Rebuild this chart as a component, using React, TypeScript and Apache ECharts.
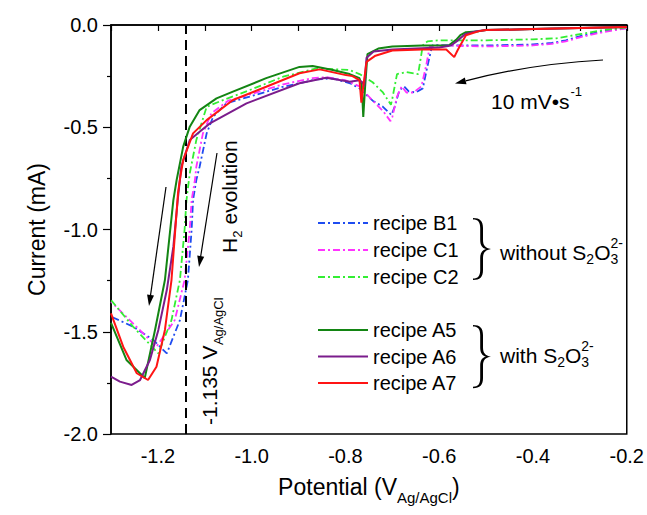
import React, { useEffect, useRef } from 'react';
import * as echarts from 'echarts';

const FONT = 'Arial, "Liberation Sans", Helvetica, sans-serif';

const seriesNames = ['recipe B1', 'recipe C1', 'recipe C2', 'recipe A5', 'recipe A6', 'recipe A7'];
const seriesColors = ['#1f4cf0', '#ff33ff', '#33ee33', '#138513', '#7b1c8c', '#ff1414'];

// [potential (V), current (mA)] — sweep from -0.2 V to -1.3 V
const b1: [number, number][] = [
  [-0.2, -0.015], [-0.25, -0.03], [-0.3, -0.055], [-0.33, -0.075], [-0.36, -0.088], [-0.4, -0.095],
  [-0.5, -0.1], [-0.55, -0.1], [-0.6, -0.098], [-0.615, -0.1], [-0.625, -0.2], [-0.635, -0.31],
  [-0.65, -0.33], [-0.665, -0.325], [-0.675, -0.3], [-0.685, -0.32], [-0.695, -0.4], [-0.702, -0.44],
  [-0.72, -0.4], [-0.742, -0.37], [-0.77, -0.31], [-0.79, -0.285], [-0.827, -0.261], [-0.862, -0.266],
  [-0.933, -0.302], [-1.004, -0.35], [-1.054, -0.383], [-1.082, -0.448], [-1.096, -0.53], [-1.111, -0.693],
  [-1.118, -0.758], [-1.125, -0.856], [-1.128, -1.0], [-1.136, -1.247], [-1.153, -1.443], [-1.181, -1.606],
  [-1.21, -1.54], [-1.253, -1.475], [-1.3, -1.426],
];
const c1: [number, number][] = [
  [-0.2, -0.015], [-0.25, -0.035], [-0.3, -0.06], [-0.33, -0.08], [-0.36, -0.092], [-0.4, -0.1],
  [-0.5, -0.105], [-0.6, -0.1], [-0.62, -0.105], [-0.628, -0.2], [-0.638, -0.3], [-0.655, -0.33],
  [-0.67, -0.33], [-0.68, -0.3], [-0.69, -0.35], [-0.7, -0.45], [-0.704, -0.47], [-0.72, -0.42],
  [-0.742, -0.37], [-0.77, -0.3], [-0.8, -0.27], [-0.84, -0.255], [-0.87, -0.26], [-0.933, -0.29],
  [-1.004, -0.34], [-1.05, -0.37], [-1.086, -0.432], [-1.104, -0.53], [-1.118, -0.693], [-1.121, -0.758],
  [-1.128, -0.856], [-1.132, -1.0], [-1.143, -1.247], [-1.164, -1.443], [-1.203, -1.573],
  [-1.253, -1.459], [-1.3, -1.353],
];
const c2: [number, number][] = [
  [-0.2, -0.012], [-0.25, -0.025], [-0.3, -0.045], [-0.35, -0.065], [-0.4, -0.07], [-0.5, -0.075],
  [-0.6, -0.075], [-0.625, -0.08], [-0.635, -0.1], [-0.645, -0.24], [-0.67, -0.23], [-0.69, -0.24],
  [-0.7, -0.36], [-0.703, -0.39], [-0.72, -0.33], [-0.742, -0.28], [-0.77, -0.24], [-0.791, -0.22],
  [-0.862, -0.212], [-0.933, -0.253], [-1.004, -0.318], [-1.061, -0.367], [-1.096, -0.4], [-1.118, -0.562],
  [-1.132, -0.725], [-1.139, -0.856], [-1.143, -1.0], [-1.153, -1.247], [-1.171, -1.443], [-1.199, -1.606],
  [-1.253, -1.475], [-1.3, -1.345],
];
const a5: [number, number][] = [
  [-0.2, -0.01], [-0.3, -0.015], [-0.4, -0.02], [-0.5, -0.025], [-0.515, -0.03], [-0.543, -0.035],
  [-0.555, -0.05], [-0.564, -0.073], [-0.58, -0.1], [-0.6, -0.1], [-0.636, -0.1], [-0.7, -0.105],
  [-0.73, -0.115], [-0.753, -0.142], [-0.758, -0.3], [-0.762, -0.45], [-0.765, -0.3], [-0.77, -0.26],
  [-0.791, -0.24], [-0.827, -0.22], [-0.87, -0.2], [-0.898, -0.205], [-0.969, -0.26], [-1.04, -0.326],
  [-1.075, -0.359], [-1.111, -0.416], [-1.132, -0.497], [-1.146, -0.595], [-1.16, -0.758], [-1.167, -0.856],
  [-1.185, -1.247], [-1.206, -1.49], [-1.228, -1.726], [-1.267, -1.638], [-1.3, -1.457],
];
const a6: [number, number][] = [
  [-0.2, -0.01], [-0.3, -0.015], [-0.4, -0.02], [-0.5, -0.025], [-0.52, -0.03], [-0.545, -0.045],
  [-0.56, -0.075], [-0.575, -0.1], [-0.6, -0.11], [-0.65, -0.115], [-0.7, -0.12], [-0.74, -0.13],
  [-0.755, -0.16], [-0.76, -0.3], [-0.764, -0.28], [-0.77, -0.27], [-0.791, -0.277], [-0.841, -0.258],
  [-0.898, -0.285], [-1.011, -0.383], [-1.089, -0.481], [-1.111, -0.522], [-1.132, -0.562], [-1.15, -0.693],
  [-1.157, -0.84], [-1.167, -1.084], [-1.181, -1.296], [-1.199, -1.491], [-1.217, -1.638], [-1.238, -1.736],
  [-1.256, -1.76], [-1.281, -1.744], [-1.3, -1.72],
];
const a7: [number, number][] = [
  [-0.2, -0.01], [-0.3, -0.015], [-0.4, -0.02], [-0.5, -0.025], [-0.515, -0.03], [-0.543, -0.05],
  [-0.56, -0.12], [-0.568, -0.157], [-0.585, -0.12], [-0.636, -0.12], [-0.7, -0.125], [-0.736, -0.15],
  [-0.755, -0.18], [-0.762, -0.3], [-0.766, -0.38], [-0.77, -0.27], [-0.785, -0.25], [-0.799, -0.245],
  [-0.855, -0.217], [-0.898, -0.236], [-0.969, -0.302], [-1.04, -0.367], [-1.096, -0.465], [-1.125, -0.53],
  [-1.146, -0.66], [-1.152, -0.74], [-1.157, -0.82], [-1.171, -1.247], [-1.185, -1.491], [-1.203, -1.671],
  [-1.221, -1.736], [-1.245, -1.703], [-1.274, -1.573], [-1.3, -1.41],
];
const seriesData = [b1, c1, c2, a5, a6, a7];
const dashed = [true, true, true, false, false, false];

const markerPotential = -1.135;

const BRACE_D =
  'M0,0 C7,0 10,3 10,10 L10,22 C10,27 12,30 18,31 C12,32 10,35 10,40 L10,52 C10,59 7,62 0,62 ' +
  'L0,60.5 C5,60.5 7.2,58 7.2,52 L7.2,40 C7.2,35 9,32 13,31 C9,30 7.2,27 7.2,22 L7.2,10 C7.2,4 5,1.5 0,1.5 Z';
echarts.graphic.registerShape('brace', (echarts.graphic as any).extendPath(BRACE_D, {}));

function txt(text: string, x: number, y: number, size: number, extra: any = {}) {
  return {
    type: 'text', x, y,
    style: {
      text, fill: '#000', fontSize: size, fontFamily: FONT,
      textAlign: 'left', textVerticalAlign: 'middle', align: 'left', verticalAlign: 'middle',
      ...extra,
    },
  };
}

function arrowHead(tx: number, ty: number, ux: number, uy: number, len = 11, w = 3.5) {
  const bx = tx - ux * len, by = ty - uy * len;
  const px = -uy, py = ux;
  return {
    type: 'polygon',
    shape: { points: [[tx, ty], [bx + px * w, by + py * w], [bx - px * w, by - py * w]] },
    style: { fill: '#000' },
  };
}

function arrow(x1: number, y1: number, x2: number, y2: number) {
  const dx = x2 - x1, dy = y2 - y1;
  const L = Math.hypot(dx, dy);
  const ux = dx / L, uy = dy / L;
  return [
    { type: 'line', shape: { x1, y1, x2: x2 - ux * 10, y2: y2 - uy * 10 }, style: { stroke: '#000', lineWidth: 1.2 } },
    arrowHead(x2, y2, ux, uy),
  ];
}

function formula(x: number, y: number, lead: string) {
  // lead + S2O3^2-
  const fs = 21, sfs = 14;
  const leadW = (lead === 'without S' ? 4.113 : 2.723) * fs;
  const subX = x + leadW;
  const oX = subX + 0.556 * sfs;
  const endX = oX + 0.778 * fs;
  return [
    txt(lead, x, y, fs),
    txt('2', subX, y + 7, sfs),
    txt('O', oX, y, fs),
    txt('3', endX, y + 7, sfs),
    txt('2-', endX, y - 9, sfs),
  ];
}

export default function App() {
  const ref = useRef<HTMLDivElement>(null);
  useEffect(() => {
    document.body.style.margin = '0';
    if (!ref.current) return;
    const chart = echarts.init(ref.current, null, { renderer: 'svg' });

    const series: any[] = seriesNames.map((name, i) => ({
      name,
      type: 'line',
      data: seriesData[i],
      showSymbol: false,
      symbol: 'none',
      smooth: false,
      lineStyle: {
        color: seriesColors[i],
        width: dashed[i] ? 1.8 : 2,
        type: dashed[i] ? [7, 3, 2, 3] : 'solid',
      },
      itemStyle: { color: seriesColors[i] },
      z: 2 + i,
    }));
    series[0].markLine = {
      silent: true,
      symbol: ['none', 'none'],
      label: { show: false },
      lineStyle: { color: '#000', width: 2, type: [10, 6] },
      data: [{ xAxis: markerPotential }],
      animation: false,
    };

    const graphic: any[] = [
      // -1.135 V label (rotated)
      {
        type: 'group', x: 209, y: 425, rotation: Math.PI / 2,
        children: [
          txt('-1.135 V', 0, 0, 21),
          txt('Ag/AgCl', 0.5 + 3.78 * 21, 9, 13),
        ],
      },
      // H2 evolution (rotated)
      {
        type: 'group', x: 229, y: 253, rotation: Math.PI / 2,
        children: [
          txt('H', 0, 0, 21),
          txt('2', 0.722 * 21, 8, 13),
          txt(' evolution', 0.722 * 21 + 7.5, 0, 21),
        ],
      },
      ...arrow(217, 153, 199, 267),
      ...arrow(166, 187, 149, 306),
      {
        type: 'bezierCurve',
        shape: { x1: 603, y1: 60, cpx1: 530, cpy1: 64, x2: 465.7, y2: 80.9 },
        style: { stroke: '#000', lineWidth: 1.2, fill: 'none' },
      },
      arrowHead(455, 83.5, -0.97, 0.24),
      txt('10 mV\u2022s', 491, 101, 21),
      txt('-1', 491 + 3.74 * 21 + 1, 91, 13),
      // braces
      { type: 'brace', x: 473, y: 218, scaleX: 1.0, scaleY: 1.0, style: { fill: '#000', stroke: 'none' } },
      { type: 'brace', x: 473, y: 325, scaleX: 1.0, scaleY: 1.02, style: { fill: '#000', stroke: 'none' } },
      ...formula(500, 252, 'without S'),
      ...formula(500, 355, 'with S'),
    ];

    const legendCommon = {
      orient: 'vertical',
      left: 317,
      padding: 0,
      itemWidth: 50,
      itemHeight: 14,
      selectedMode: false,
      itemStyle: { opacity: 0, borderWidth: 0 },
      textStyle: { color: '#000', fontSize: 20, fontFamily: FONT, lineHeight: 20 },
    };

    chart.setOption({
      animation: false,
      backgroundColor: '#fff',
      textStyle: { fontFamily: FONT },
      grid: { left: 111, right: 19, top: 25, bottom: 81, show: true, borderColor: '#000', borderWidth: 1.5, backgroundColor: 'transparent' },
      legend: [
        { ...legendCommon, top: 213, itemGap: 7, data: seriesNames.slice(0, 3) },
        { ...legendCommon, top: 320, itemGap: 6.5, data: seriesNames.slice(3) },
      ],
      xAxis: {
        type: 'value',
        min: -1.3,
        max: -0.2,
        interval: 0.1,
        name: '{a|Potential (V}{s|Ag/AgCl}{a|)}',
        nameLocation: 'middle',
        nameGap: 41,
        nameTextStyle: {
          rich: {
            a: { fontSize: 23, fontFamily: FONT, color: '#000', padding: [0, 0, 7, 0], verticalAlign: 'bottom' },
            s: { fontSize: 15, fontFamily: FONT, color: '#000', verticalAlign: 'bottom' },
          },
        },
        axisLine: { lineStyle: { color: '#000', width: 1.5 } },
        axisTick: { inside: false, length: 6, lineStyle: { color: '#000', width: 1.2 } },
        axisLabel: {
          color: '#000', fontSize: 20, fontFamily: FONT, margin: 12,
          formatter: (v: number) => {
            const k = Math.round(v * 10);
            return k % 2 === 0 ? (k / 10).toFixed(1) : '';
          },
        },
        splitLine: { show: false },
      },
      yAxis: {
        type: 'value',
        min: -2,
        max: 0,
        interval: 0.5,
        name: 'Current (mA)',
        nameLocation: 'middle',
        nameGap: 63,
        nameTextStyle: { fontSize: 23, fontFamily: FONT, color: '#000' },
        axisLine: { show: true, lineStyle: { color: '#000', width: 1.5 } },
        axisTick: { show: true, inside: false, length: 8, lineStyle: { color: '#000', width: 1.2 } },
        minorTick: { show: true, splitNumber: 2, length: 4, lineStyle: { color: '#000', width: 1.2 } },
        axisLabel: {
          color: '#000', fontSize: 20, fontFamily: FONT, margin: 13,
          formatter: (v: number) => (Math.abs(v) < 1e-9 ? '0.0' : v.toFixed(1)),
        },
        splitLine: { show: false },
        minorSplitLine: { show: false },
      },
      series,
      graphic,
    });
    return () => chart.dispose();
  }, []);
  return <div ref={ref} style={{ width: 647, height: 515, position: 'absolute', left: 0, top: 0 }} />;
}
